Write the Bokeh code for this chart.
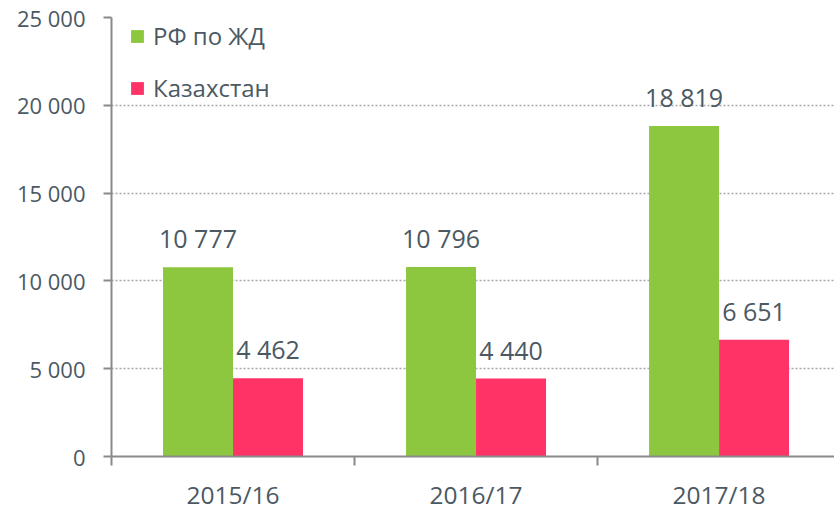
from bokeh.plotting import figure
from bokeh.models import ColumnDataSource, Range1d, FixedTicker, Legend, LegendItem
from bokeh.transform import dodge
from bokeh.core.properties import value
from bokeh.embed import file_html
from bokeh.resources import INLINE

categories = ["2015/16", "2016/17", "2017/18"]
rf_rail = [10777, 10796, 18819]
kazakhstan = [4462, 4440, 6651]
series_names = ["РФ по ЖД", "Казахстан"]
y_ticks = [0, 5000, 10000, 15000, 20000, 25000]

FONT = "Open Sans"
TEXT = "#4B5963"
GREEN = "#8DC63F"
RED = "#FF3366"
AXIS = "#8A8A8A"


def fmt(v):
    return f"{v:,}".replace(",", " ")


xs = [i + 0.5 for i in range(len(categories))]
src = ColumnDataSource(dict(
    x=xs,
    rf=rf_rail,
    kz=kazakhstan,
    rf_lbl=[fmt(v) for v in rf_rail],
    kz_lbl=[fmt(v) for v in kazakhstan],
))

p = figure(width=834, height=513, output_backend="svg", toolbar_location=None,
           x_range=Range1d(0, 2.975), y_range=Range1d(0, 25000),
           min_border_left=111, min_border_top=17, min_border_right=0,
           min_border_bottom=56)
p.outline_line_color = None
p.background_fill_color = "white"
p.border_fill_color = "white"

bw = 0.288
r1 = p.vbar(x=dodge("x", -0.144), top="rf", width=bw, source=src,
            fill_color=GREEN, line_color=None)
r2 = p.vbar(x=dodge("x", 0.144), top="kz", width=bw, source=src,
            fill_color=RED, line_color=None)

p.text(x=dodge("x", -0.144), y="rf", text="rf_lbl", source=src,
       text_font=value(FONT), text_font_size="25px", text_color=TEXT,
       text_align="center", text_baseline="alphabetic", y_offset=-29)
p.text(x=dodge("x", 0.144), y="kz", text="kz_lbl", source=src,
       text_font=value(FONT), text_font_size="25px", text_color=TEXT,
       text_align="center", text_baseline="alphabetic", y_offset=-29)

# y axis
p.yaxis.ticker = FixedTicker(ticks=y_ticks)
p.yaxis.major_label_overrides = {v: fmt(v) for v in y_ticks}
p.yaxis.major_label_text_font = FONT
p.yaxis.major_label_text_font_size = "22px"
p.yaxis.major_label_text_color = TEXT
p.yaxis.major_label_standoff = 18
p.yaxis.major_tick_out = 8
p.yaxis.major_tick_in = 0
p.yaxis.minor_tick_line_color = None
p.yaxis.axis_line_color = AXIS
p.yaxis.axis_line_width = 2
p.yaxis.major_tick_line_color = AXIS
p.yaxis.major_tick_line_width = 2

# x axis
p.xaxis.ticker = FixedTicker(ticks=xs, minor_ticks=list(range(len(categories) + 1)))
p.xaxis.major_label_overrides = {x: c for x, c in zip(xs, categories)}
p.xaxis.major_label_text_font = FONT
p.xaxis.major_label_text_font_size = "24.5px"
p.xaxis.major_label_text_color = TEXT
p.xaxis.major_tick_line_color = None
p.xaxis.major_tick_out = 9
p.xaxis.major_tick_in = 0
p.xaxis.minor_tick_out = 9
p.xaxis.minor_tick_in = 0
p.xaxis.minor_tick_line_color = AXIS
p.xaxis.minor_tick_line_width = 2
p.xaxis.axis_line_color = AXIS
p.xaxis.axis_line_width = 2
p.xaxis.major_label_standoff = 12

p.xgrid.grid_line_color = None
p.ygrid.ticker = FixedTicker(ticks=y_ticks[1:])
p.ygrid.grid_line_color = "#A8A8A8"
p.ygrid.grid_line_dash = "2 2"
p.ygrid.grid_line_width = 1.5

legend = Legend(items=[LegendItem(label=series_names[0], renderers=[r1]),
                       LegendItem(label=series_names[1], renderers=[r2])],
                location=(18, 352), orientation="vertical",
                glyph_width=16, glyph_height=16, label_height=30,
                spacing=19, padding=0, margin=0, label_standoff=8,
                label_text_font=FONT, label_text_font_size="24px",
                label_text_color=TEXT, border_line_color=None,
                background_fill_alpha=0)
p.add_layout(legend)

open("out.html", "w").write(file_html(p, INLINE))
